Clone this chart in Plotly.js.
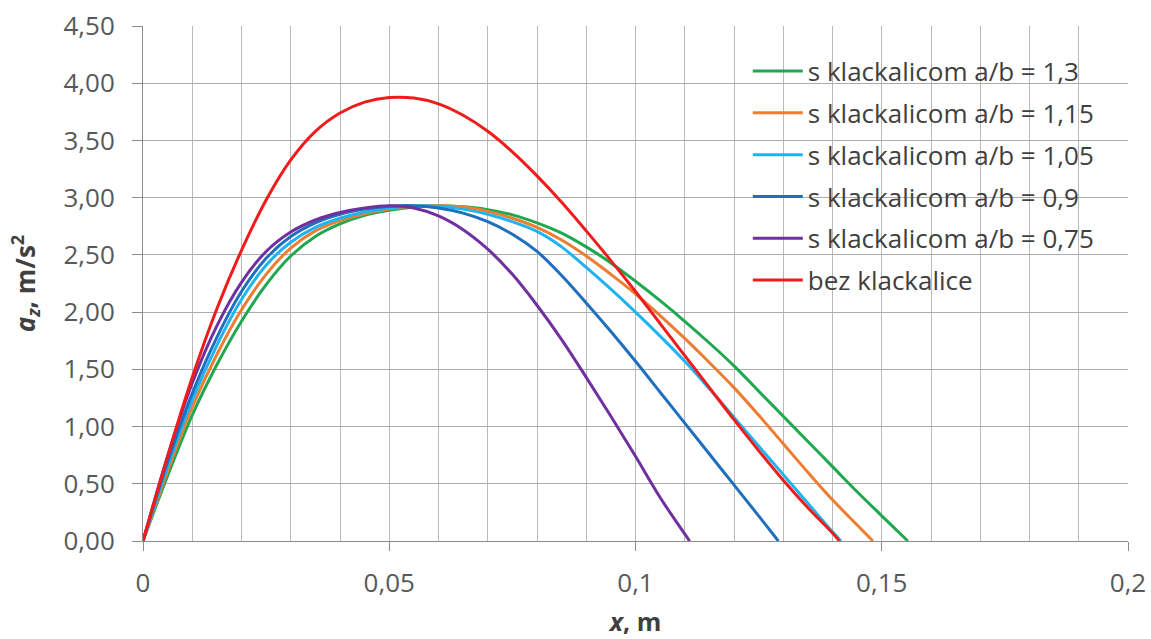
<!DOCTYPE html>
<html>
<head>
<meta charset="utf-8">
<script src="https://cdn.plot.ly/plotly-3.0.1.min.js"></script>
<style>html,body{margin:0;padding:0;background:#fff;}#chart{width:1151px;height:639px;}</style>
</head>
<body>
<div id="chart"></div>
<script>
// Series names
const seriesNames = [
  's klackalicom a/b = 1,3',
  's klackalicom a/b = 1,15',
  's klackalicom a/b = 1,05',
  's klackalicom a/b = 0,9',
  's klackalicom a/b = 0,75',
  'bez klackalice'
];
const seriesColors = ['#1fa84f', '#ed7d31', '#1fb4ef', '#1f6fbf', '#7030a0', '#f01c1c'];

// a/b = 1,3
const xGreen = [0, 0.005, 0.01, 0.015, 0.02, 0.025, 0.03, 0.035, 0.04, 0.045, 0.05, 0.055, 0.06, 0.065, 0.07, 0.075, 0.08, 0.085, 0.09, 0.095, 0.10, 0.105, 0.11, 0.115, 0.12, 0.125, 0.13, 0.135, 0.14, 0.145, 0.15, 0.1553];
const yGreen = [0, 0.57, 1.10, 1.54, 1.92, 2.24, 2.49, 2.66, 2.77, 2.845, 2.89, 2.918, 2.93, 2.92, 2.895, 2.85, 2.78, 2.69, 2.57, 2.43, 2.27, 2.10, 1.92, 1.73, 1.53, 1.31, 1.09, 0.87, 0.65, 0.43, 0.22, 0];
// a/b = 1,15
const xOrange = [0, 0.005, 0.01, 0.015, 0.02, 0.025, 0.03, 0.035, 0.04, 0.045, 0.05, 0.055, 0.06, 0.065, 0.07, 0.075, 0.08, 0.085, 0.09, 0.095, 0.10, 0.105, 0.11, 0.115, 0.12, 0.125, 0.13, 0.135, 0.14, 0.145, 0.1482];
const yOrange = [0, 0.61, 1.17, 1.63, 2.02, 2.33, 2.56, 2.71, 2.80, 2.86, 2.90, 2.925, 2.93, 2.92, 2.88, 2.82, 2.74, 2.63, 2.49, 2.33, 2.16, 1.97, 1.77, 1.56, 1.34, 1.10, 0.85, 0.60, 0.36, 0.14, 0];
// a/b = 1,05
const xLightBlue = [0, 0.005, 0.01, 0.015, 0.02, 0.025, 0.03, 0.035, 0.04, 0.045, 0.05, 0.055, 0.06, 0.065, 0.07, 0.075, 0.08, 0.085, 0.09, 0.095, 0.10, 0.105, 0.11, 0.115, 0.12, 0.125, 0.13, 0.135, 0.14, 0.1417];
const yLightBlue = [0, 0.65, 1.23, 1.71, 2.11, 2.41, 2.61, 2.74, 2.82, 2.875, 2.91, 2.928, 2.925, 2.90, 2.855, 2.79, 2.705, 2.57, 2.39, 2.20, 2.00, 1.79, 1.57, 1.33, 1.08, 0.83, 0.58, 0.33, 0.08, 0];
// a/b = 0,9
const xBlue = [0, 0.005, 0.01, 0.015, 0.02, 0.025, 0.03, 0.035, 0.04, 0.045, 0.05, 0.055, 0.06, 0.065, 0.07, 0.075, 0.08, 0.085, 0.09, 0.095, 0.10, 0.105, 0.11, 0.115, 0.12, 0.125, 0.129];
const yBlue = [0, 0.69, 1.29, 1.78, 2.18, 2.47, 2.66, 2.78, 2.855, 2.90, 2.925, 2.93, 2.91, 2.865, 2.79, 2.68, 2.53, 2.32, 2.08, 1.83, 1.57, 1.30, 1.03, 0.76, 0.49, 0.22, 0];
// a/b = 0,75
const xPurple = [0, 0.005, 0.01, 0.015, 0.02, 0.025, 0.03, 0.035, 0.04, 0.045, 0.05, 0.055, 0.06, 0.065, 0.07, 0.075, 0.08, 0.085, 0.09, 0.095, 0.10, 0.105, 0.111];
const yPurple = [0, 0.74, 1.38, 1.88, 2.26, 2.53, 2.70, 2.805, 2.87, 2.91, 2.93, 2.91, 2.84, 2.72, 2.55, 2.33, 2.06, 1.76, 1.43, 1.09, 0.74, 0.38, 0];
// bez klackalice
const xRed = [0, 0.005, 0.01, 0.015, 0.02, 0.025, 0.03, 0.035, 0.04, 0.045, 0.05, 0.055, 0.06, 0.065, 0.07, 0.075, 0.08, 0.085, 0.09, 0.095, 0.10, 0.105, 0.11, 0.115, 0.12, 0.125, 0.13, 0.135, 0.14, 0.1414];
const yRed = [0, 0.74, 1.43, 2.03, 2.54, 2.98, 3.33, 3.58, 3.74, 3.835, 3.875, 3.87, 3.82, 3.72, 3.58, 3.40, 3.19, 2.96, 2.71, 2.45, 2.18, 1.90, 1.62, 1.34, 1.06, 0.79, 0.53, 0.29, 0.07, 0];

const xs = [xGreen, xOrange, xLightBlue, xBlue, xPurple, xRed];
const ys = [yGreen, yOrange, yLightBlue, yBlue, yPurple, yRed];

const yTickVals = [0, 0.5, 1, 1.5, 2, 2.5, 3, 3.5, 4, 4.5];
const xTickVals = [0, 0.05, 0.1, 0.15, 0.2];

const FONT = 'Open Sans, Noto Sans, sans-serif';

const traces = seriesNames.map((name, i) => ({
  type: 'scatter',
  mode: 'lines',
  name: name,
  legendgroup: 'g' + i,
  x: xs[i],
  y: ys[i],
  line: {color: seriesColors[i], width: 3, shape: 'spline', smoothing: 1},
  hoverinfo: 'skip'
}));

const layout = {
  width: 1151,
  height: 639,
  margin: {l: 143, r: 23, t: 26, b: 98},
  paper_bgcolor: '#ffffff',
  plot_bgcolor: '#ffffff',
  separators: ',.',
  showlegend: true,
  font: {family: FONT, color: '#404040'},
  xaxis: {
    range: [0, 0.2],
    tickvals: xTickVals,
    showgrid: true,
    gridcolor: '#b9b9b9',
    gridwidth: 1,
    minor: {dtick: 0.01, tick0: 0, showgrid: true, gridcolor: '#b9b9b9', gridwidth: 1, ticks: ''},
    ticks: 'outside',
    ticklen: 9,
    tickcolor: '#8c8c8c',
    showline: true,
    linecolor: '#8c8c8c',
    linewidth: 1,
    zeroline: false,
    ticklabelstandoff: 10,
    tickfont: {family: FONT, size: 26, color: '#595959'},
    title: {text: '<b><i>x</i>, m</b>', font: {family: FONT, size: 25, color: '#404040'}, standoff: 14}
  },
  yaxis: {
    range: [0, 4.5],
    tickvals: yTickVals,
    tickformat: '.2f',
    showgrid: true,
    gridcolor: '#acacac',
    gridwidth: 1,
    ticks: 'outside',
    ticklen: 10,
    tickcolor: '#8c8c8c',
    showline: true,
    linecolor: '#8c8c8c',
    linewidth: 1,
    zeroline: false,
    ticklabelstandoff: 12,
    tickfont: {family: FONT, size: 26, color: '#595959'},
    title: {text: '<b><i>a</i><sub><i>z</i></sub>, m/s<sup>2</sup></b>', font: {family: FONT, size: 26, color: '#404040'}, standoff: 20}
  },
  legend: {
    x: 0.614,
    y: 0.958,
    xanchor: 'left',
    yanchor: 'top',
    bgcolor: 'rgba(0,0,0,0)',
    borderwidth: 0,
    traceorder: 'grouped',
    tracegroupgap: 5,
    itemwidth: 50,
    font: {family: FONT, size: 26, color: '#404040'}
  }
};

Plotly.newPlot('chart', traces, layout, {displayModeBar: false, staticPlot: true});
</script>
</body>
</html>
